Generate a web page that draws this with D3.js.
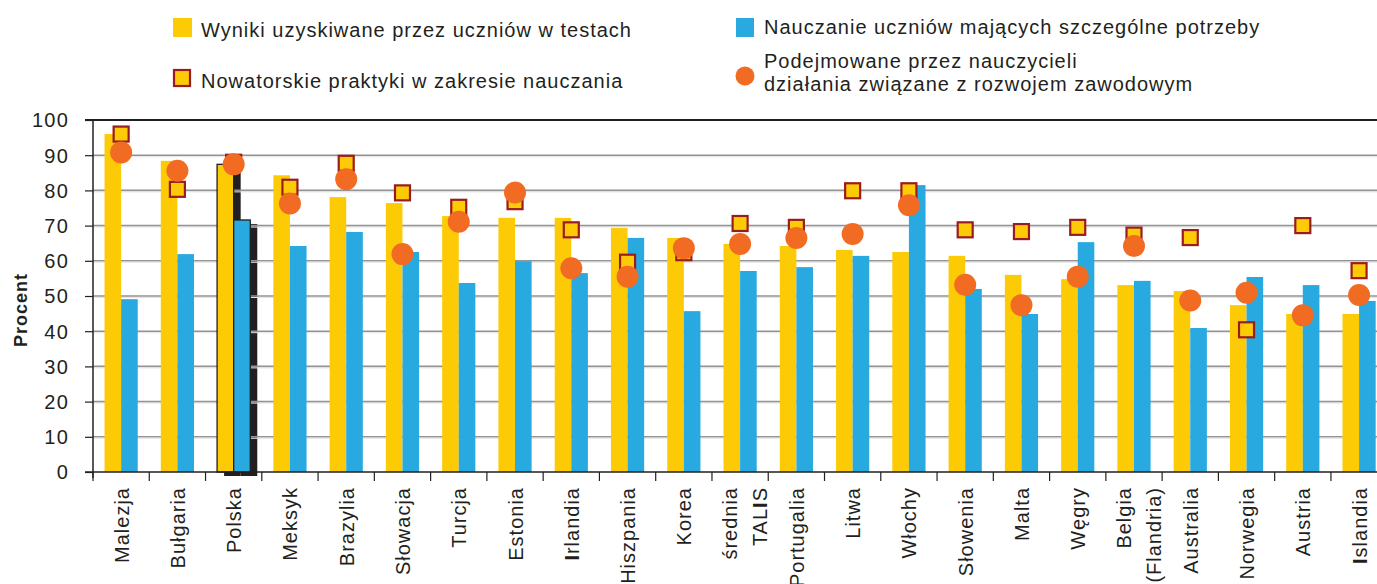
<!DOCTYPE html>
<html lang="pl">
<head>
<meta charset="utf-8">
<script src="https://cdn.jsdelivr.net/npm/d3@7"></script>
<style>
  html, body { margin: 0; padding: 0; background: #fff; }
  svg { display: block; }
  text { font-family: "Liberation Sans", Arial, Helvetica, sans-serif; fill: #231f20; }
</style>
</head>
<body>
<svg id="chart" width="1377" height="584"></svg>
<script>
// Countries / systems, ordered by the share for student test results
const categories = ["Malezja", "Bułgaria", "Polska", "Meksyk", "Brazylia", "Słowacja", "Turcja",
  "Estonia", "Irlandia", "Hiszpania", "Korea", "średnia TALIS", "Portugalia", "Litwa", "Włochy",
  "Słowenia", "Malta", "Węgry", "Belgia (Flandria)", "Australia", "Norwegia", "Austria", "Islandia"];

// Label lines (two-line names are split)
const categoryLines = [["Malezja"], ["Bułgaria"], ["Polska"], ["Meksyk"], ["Brazylia"], ["Słowacja"],
  ["Turcja"], ["Estonia"], ["Irlandia"], ["Hiszpania"], ["Korea"], ["średnia", "TALIS"], ["Portugalia"],
  ["Litwa"], ["Włochy"], ["Słowenia"], ["Malta"], ["Węgry"], ["Belgia", "(Flandria)"], ["Australia"],
  ["Norwegia"], ["Austria"], ["Islandia"]];

// Yellow bars: Wyniki uzyskiwane przez uczniów w testach
const testResults = [96.0, 88.4, 87.4, 84.3, 78.1, 76.4, 72.7, 72.2, 72.2, 69.3, 66.5, 64.8, 64.2,
  63.1, 62.5, 61.4, 56.0, 54.8, 53.1, 51.4, 47.4, 44.9, 44.9];

// Blue bars: Nauczanie uczniów mających szczególne potrzeby
const specialNeeds = [49.1, 61.9, 71.6, 64.2, 68.2, 62.5, 53.7, 59.9, 56.5, 66.5, 45.7, 57.1, 58.2,
  61.4, 81.5, 52.0, 44.9, 65.3, 54.3, 40.9, 55.4, 53.1, 48.6];

// Square markers: Nowatorskie praktyki w zakresie nauczania
const innovativePractice = [96.0, 80.3, 88.0, 80.9, 87.7, 79.3, 75.2, 76.8, 68.8, 59.6, 62.3, 70.6,
  69.5, 79.9, 79.9, 68.8, 68.3, 69.5, 67.3, 66.6, 40.4, 70.0, 57.2];

// Circle markers: Podejmowane przez nauczycieli działania związane z rozwojem zawodowym
const professionalDevelopment = [90.8, 85.6, 87.4, 76.3, 83.2, 61.9, 71.1, 79.4, 57.9, 55.5, 63.6,
  64.8, 66.5, 67.6, 75.8, 53.2, 47.4, 55.5, 64.2, 48.7, 50.9, 44.5, 50.3];

const yTicks = [0, 10, 20, 30, 40, 50, 60, 70, 80, 90, 100];
const highlighted = "Polska";

const legendLabels = {
  tests: "Wyniki uzyskiwane przez uczniów w testach",
  needs: "Nauczanie uczniów mających szczególne potrzeby",
  innovative: "Nowatorskie praktyki w zakresie nauczania",
  development: ["Podejmowane przez nauczycieli", "działania związane z rozwojem zawodowym"]
};

const COLORS = {
  yellow: "#fccb06",
  blue: "#28a9e0",
  orange: "#f26b23",
  squareEdge: "#9b1c20",
  ink: "#231f20",
  grid: "#939393"
};

const svg = d3.select("#chart");

const plotLeft = 93, plotTop = 120, plotBottom = 472;
const step = 56.27;

const x = d3.scaleBand()
  .domain(categories)
  .range([plotLeft, plotLeft + step * categories.length])
  .paddingInner(0).paddingOuter(0);

const y = d3.scaleLinear().domain([0, 100]).range([plotBottom, plotTop]);

const x1 = d3.scaleBand()
  .domain(["tests", "needs"])
  .range([0, x.bandwidth()])
  .paddingInner(0).paddingOuter(0.695);

const rows = categories.map((c, i) => ({
  name: c,
  lines: categoryLines[i],
  tests: testResults[i],
  needs: specialNeeds[i],
  innovative: innovativePractice[i],
  development: professionalDevelopment[i]
}));

// Drop shadow behind the highlighted country's bars
const shadowDx = 7, shadowDy = 4;
const hl = rows.filter(r => r.name === highlighted);
const shadowG = svg.append("g");
["tests", "needs"].forEach(k => {
  shadowG.selectAll(null).data(hl).enter().append("rect")
    .attr("x", d => x(d.name) + x1(k) + shadowDx)
    .attr("y", d => y(d[k]) + shadowDy)
    .attr("width", x1.bandwidth())
    .attr("height", d => plotBottom - y(d[k]))
    .attr("fill", COLORS.ink);
});

// Horizontal grid lines
const gridTicks = yTicks.filter(t => t > 0 && t < 100);
svg.append("g").selectAll("line")
  .data(gridTicks)
  .enter().append("line")
  .attr("x1", plotLeft).attr("x2", 1377)
  .attr("y1", d => y(d)).attr("y2", d => y(d))
  .attr("stroke", COLORS.grid).attr("stroke-width", 1.6);
svg.append("g").selectAll("line")
  .data(gridTicks)
  .enter().append("line")
  .attr("x1", plotLeft).attr("x2", 1377)
  .attr("y1", d => y(d) + 1.5).attr("y2", d => y(d) + 1.5)
  .attr("stroke", "#e4e4e4").attr("stroke-width", 1);

// Bars
const barG = svg.append("g");
[["tests", COLORS.yellow], ["needs", COLORS.blue]].forEach(([k, col]) => {
  barG.selectAll(null).data(rows).enter().append("rect")
    .attr("x", d => x(d.name) + x1(k))
    .attr("y", d => y(d[k]))
    .attr("width", x1.bandwidth())
    .attr("height", d => plotBottom - y(d[k]))
    .attr("fill", col)
    .attr("stroke", d => d.name === highlighted ? COLORS.ink : "none")
    .attr("stroke-width", 1.3);
});

// Frame: top line, left axis line, baseline
svg.append("line").attr("x1", 85).attr("x2", 1377).attr("y1", plotTop).attr("y2", plotTop)
  .attr("stroke", COLORS.ink).attr("stroke-width", 2);
svg.append("line").attr("x1", plotLeft).attr("x2", plotLeft).attr("y1", plotTop).attr("y2", plotBottom + 6)
  .attr("stroke", COLORS.ink).attr("stroke-width", 1.5);
svg.append("line").attr("x1", 85).attr("x2", 1377).attr("y1", plotBottom).attr("y2", plotBottom)
  .attr("stroke", COLORS.ink).attr("stroke-width", 1.6);

// Y axis ticks and labels
const yAxis = d3.axisLeft(y).tickValues(yTicks).tickSize(8).tickPadding(16).tickFormat(d => d);
const yG = svg.append("g").attr("transform", `translate(${plotLeft},0)`).call(yAxis);
yG.select(".domain").remove();
yG.selectAll(".tick line").attr("stroke", COLORS.ink).attr("stroke-width", 1.2);
yG.selectAll(".tick text")
  .attr("fill", COLORS.ink)
  .style("font-size", "20px")
  .style("letter-spacing", "1.2px")
  .style("font-family", "'Liberation Sans', Arial, sans-serif")
  .attr("dy", "0.34em");

// Y axis title
svg.append("text")
  .attr("transform", "translate(27,310) rotate(-90)")
  .attr("text-anchor", "middle")
  .style("font-size", "18px")
  .style("font-weight", "bold")
  .style("letter-spacing", "1px")
  .text("Procent");

// X axis ticks at band boundaries
const boundaries = categories.map(c => x(c)).concat([x(categories[categories.length - 1]) + x.bandwidth()]);
svg.append("g").selectAll("line").data(boundaries).enter().append("line")
  .attr("x1", d => d).attr("x2", d => d)
  .attr("y1", plotBottom).attr("y2", plotBottom + 9)
  .attr("stroke", COLORS.ink).attr("stroke-width", 1.2);

// Rotated category labels
const labelG = svg.append("g").selectAll("g").data(rows).enter().append("g")
  .attr("transform", d => `translate(${x(d.name) + x.bandwidth() / 2},487) rotate(-90)`);
labelG.each(function (d) {
  const g = d3.select(this);
  const offsets = d.lines.length === 1 ? [7.5] : [-3, 27];
  d.lines.forEach((ln, i) => {
    const t = g.append("text")
      .attr("x", 0).attr("y", offsets[i])
      .attr("text-anchor", "end")
      .style("font-size", "20px")
      .style("letter-spacing", "1px");
    // the capital I is set in a heavier cut in these labels
    const parts = ln.split(/(I)/).filter(p => p.length);
    parts.forEach(p => {
      t.append("tspan").style("font-weight", p === "I" ? "bold" : "normal").text(p);
    });
  });
});

// Square markers
const sq = 15;
svg.append("g").selectAll("rect").data(rows).enter().append("rect")
  .attr("x", d => x(d.name) + x.bandwidth() / 2 - sq / 2)
  .attr("y", d => y(d.innovative) - sq / 2)
  .attr("width", sq).attr("height", sq)
  .attr("fill", COLORS.yellow)
  .attr("stroke", COLORS.squareEdge)
  .attr("stroke-width", 2.2);

// Circle markers
svg.append("g").selectAll("circle").data(rows).enter().append("circle")
  .attr("cx", d => x(d.name) + x.bandwidth() / 2)
  .attr("cy", d => y(d.development))
  .attr("r", 11)
  .attr("fill", COLORS.orange);

// Legend
const lg = svg.append("g");
lg.append("rect").attr("x", 173).attr("y", 18).attr("width", 19).attr("height", 19).attr("fill", COLORS.yellow);
lg.append("text").attr("x", 201).attr("y", 37).style("font-size", "20px").style("letter-spacing", "1px").text(legendLabels.tests);

lg.append("rect").attr("x", 174).attr("y", 70).attr("width", 16).attr("height", 16)
  .attr("fill", COLORS.yellow).attr("stroke", COLORS.squareEdge).attr("stroke-width", 2.2);
lg.append("text").attr("x", 201).attr("y", 88).style("font-size", "20px").style("letter-spacing", "1px").text(legendLabels.innovative);

lg.append("rect").attr("x", 736).attr("y", 18).attr("width", 18).attr("height", 19).attr("fill", COLORS.blue);
lg.append("text").attr("x", 764).attr("y", 34).style("font-size", "20px").style("letter-spacing", "1px").text(legendLabels.needs);

lg.append("circle").attr("cx", 745).attr("cy", 76).attr("r", 9.5).attr("fill", COLORS.orange);
legendLabels.development.forEach((ln, i) => {
  lg.append("text").attr("x", 764).attr("y", 68 + i * 23).style("font-size", "20px").style("letter-spacing", "1px").text(ln);
});
</script>
</body>
</html>
